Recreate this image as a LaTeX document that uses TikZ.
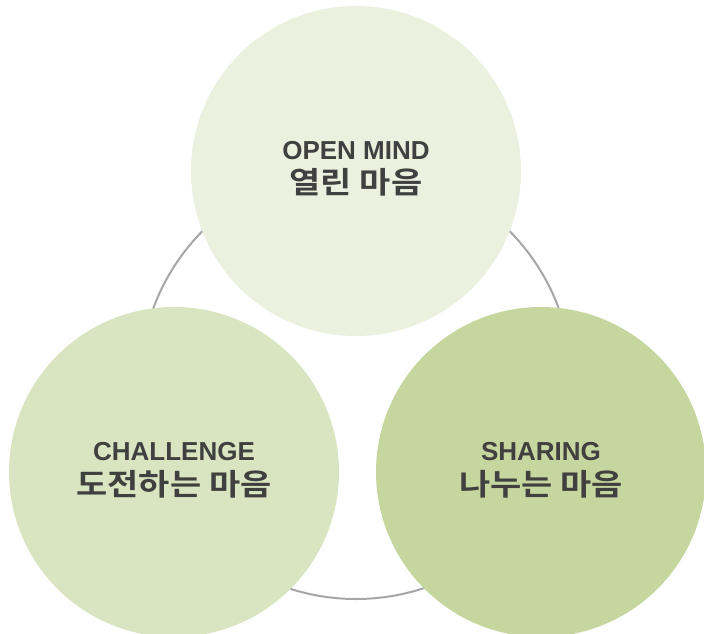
\documentclass[tikz,border=0pt]{standalone}
\usepackage{fontspec}
\setmainfont{Liberation Sans}[BoldFont={Liberation Sans Bold}]
\newfontfamily\kr{Noto Sans CJK KR Bold}[FakeStretch=1.13]
\definecolor{topc}{HTML}{EBF0DF}
\definecolor{leftc}{HTML}{D9E5C1}
\definecolor{rightc}{HTML}{C5D79E}
\definecolor{ring}{HTML}{A6A6A6}
\definecolor{txt}{HTML}{404040}
\tikzset{
  bubble/.style={circle, inner sep=0pt, minimum size=330pt, draw=none},
  entxt/.style={anchor=base, inner sep=0pt, text=txt, font=\bfseries\fontsize{26}{26}\selectfont},
  krtxt/.style={anchor=base, inner sep=0pt, text=txt, font=\kr\fontsize{30}{30}\selectfont},
}
\begin{document}
\begin{tikzpicture}[x=1pt, y=-1pt]
\useasboundingbox (0,0) rectangle (704,633);
\node[circle, inner sep=0pt, minimum size=432pt, draw=ring, line width=2pt] (ring) at (356,383) {};
\node[bubble, fill=topc] (open) at (356,171) {};
\node[bubble, fill=leftc] (chal) at (174,472) {};
\node[bubble, fill=rightc] (shar) at (541,472) {};
\node[entxt] (openen) at (356,159) {OPEN MIND};
\node[krtxt] (openkr) at (356,193) {열린 마음};
\node[entxt] (chalen) at (174,460) {CHALLENGE};
\node[krtxt] (chalkr) at (174,495) {도전하는 마음};
\node[entxt] (sharen) at (541,460) {SHARING};
\node[krtxt] (sharkr) at (541,495) {나누는 마음};
\end{tikzpicture}
\end{document}
